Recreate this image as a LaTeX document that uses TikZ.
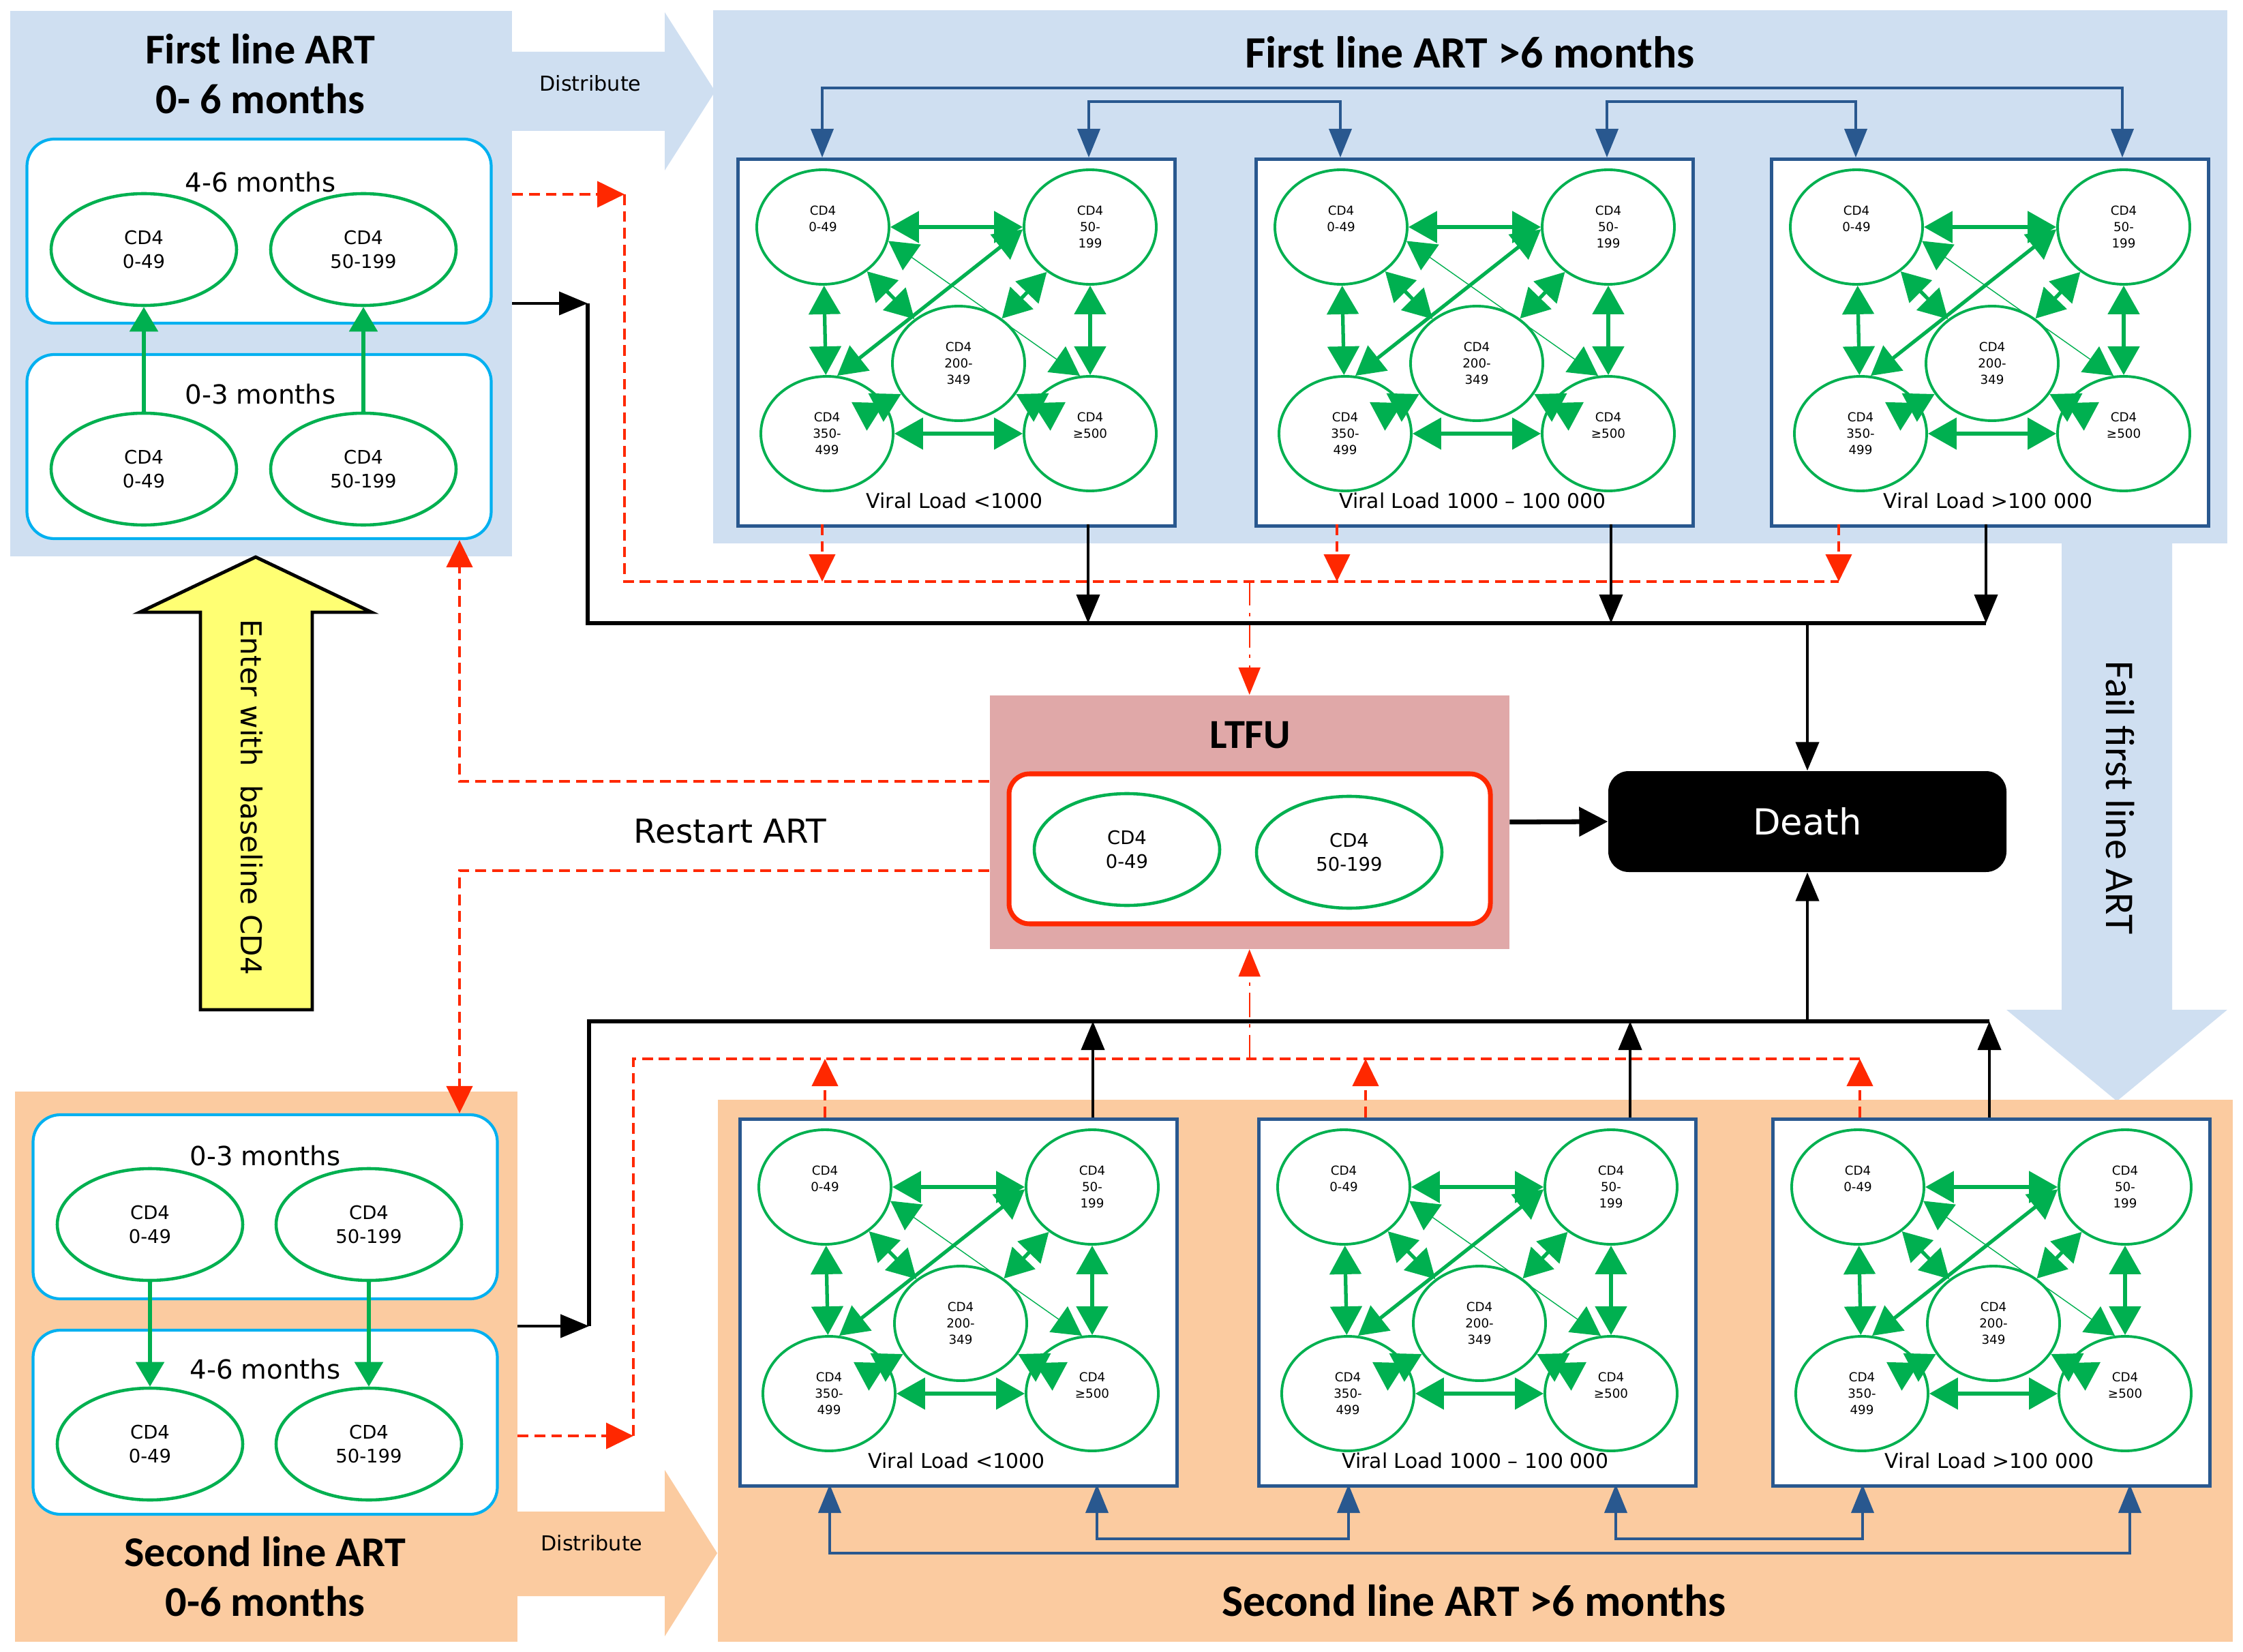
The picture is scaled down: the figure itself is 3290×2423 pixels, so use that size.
\documentclass[tikz,border=0pt]{standalone}
\usepackage{fontspec}
\setmainfont{Carlito}
\newfontfamily\lblfont{DejaVu Sans}
\usetikzlibrary{arrows.meta,shapes.geometric}

\definecolor{panelblue}{RGB}{207,223,241}
\definecolor{panelorange}{RGB}{251,203,160}
\definecolor{ltfupink}{RGB}{224,168,168}
\definecolor{cdgreen}{RGB}{0,176,80}
\definecolor{boxcyan}{RGB}{0,176,240}
\definecolor{vlblue}{RGB}{41,88,143}
\definecolor{redline}{RGB}{255,40,0}
\definecolor{enteryellow}{RGB}{255,255,115}

\tikzset{
  panel/.style={inner sep=0pt, anchor=north west},
  paneltitle/.style={align=center, font=\bfseries\fontsize{17.7}{20.8}\selectfont},
  bigtitle/.style={font=\bfseries\fontsize{18.7}{22}\selectfont},
  agebox/.style={draw=boxcyan, line width=1.2pt, fill=white, rounded corners=4mm,
    inner sep=0pt, minimum width=68.1mm, minimum height=27mm},
  agelabel/.style={font=\lblfont\fontsize{11}{13}\selectfont},
  cdell/.style={ellipse, draw=cdgreen, line width=1.3pt, fill=white, inner sep=0pt,
    minimum width=27.2mm, minimum height=16.4mm, align=center,
    font=\lblfont\fontsize{7.8}{10}\selectfont},
  cdcirc/.style={ellipse, draw=cdgreen, line width=1.1pt, inner sep=0pt,
    minimum width=19.4mm, minimum height=16.8mm, align=center,
    font=\lblfont\fontsize{5.2}{6.8}\selectfont},
  vlbox/.style={draw=vlblue, line width=1.5pt, fill=white, inner sep=0pt,
    minimum width=64.1mm, minimum height=53.8mm, anchor=north west},
  vllabel/.style={font=\lblfont\fontsize{8.5}{10}\selectfont},
  gtwo/.style={draw=cdgreen, line width=1.5pt,
    {Triangle[length=4.2mm,width=4.6mm]}-{Triangle[length=4.2mm,width=4.6mm]}},
  gthin/.style={gtwo, line width=0.4pt},
  gone/.style={draw=cdgreen, line width=1.6pt, -{Triangle[length=3.6mm,width=4.1mm]}},
  bluelink/.style={draw=vlblue, line width=1.1pt,
    {Triangle[length=4.2mm,width=3.3mm]}-{Triangle[length=4.2mm,width=3.3mm]}},
  blk/.style={draw=black, line width=1.2pt, -{Triangle[length=4.2mm,width=3.4mm]}},
  bus/.style={draw=black, line width=1.6pt},
  reddash/.style={draw=redline, line width=1.2pt, dash pattern=on 4.5pt off 2.5pt},
  redarr/.style={reddash, -{Triangle[length=4mm,width=3.8mm]}},
  reddot/.style={draw=redline, line width=0.6pt, dash pattern=on 10pt off 3pt on 1.5pt off 3pt,
    -{Triangle[length=4mm,width=3.2mm]}},
}

\begin{document}
\begin{tikzpicture}[x=0.1mm, y=-0.1mm]
\fill[white] (0,0) rectangle (3290,2423);
\useasboundingbox (0,0) rectangle (3290,2423);

% panels
\node[panel, fill=panelblue, minimum width=73.6mm, minimum height=80mm] (fl06) at (14,15) {};
\node[panel, fill=panelblue, minimum width=222.1mm, minimum height=78.2mm] (fl6) at (1045,14) {};
\fill[panelblue] (3024,796) -- (3186,796) -- (3186,1481) -- (3267,1481) -- (3105,1615)
  -- (2943,1481) -- (3024,1481) -- cycle;
\node[panel, fill=panelorange, minimum width=73.7mm, minimum height=80.7mm] (sl06) at (21,1600) {};
\node[panel, fill=panelorange, minimum width=222.2mm, minimum height=79.5mm] (sl6) at (1052,1612) {};
\node[panel, fill=ltfupink, minimum width=76.2mm, minimum height=37.2mm] (ltfu) at (1451,1019) {};

% distribute arrows
\fill[panelblue] (750,76) -- (975,76) -- (975,18) -- (1049,134) -- (975,250) -- (975,192)
  -- (750,192) -- cycle;
\fill[panelorange] (758,2217) -- (975,2217) -- (975,2156) -- (1052,2278) -- (975,2400)
  -- (975,2341) -- (758,2341) -- cycle;
\node[font=\lblfont\fontsize{8.6}{10}\selectfont] (dist1) at (866,122) {Distribute};
\node[font=\lblfont\fontsize{8.6}{10}\selectfont] (dist2) at (868,2263) {Distribute};
\node[rotate=-90, font=\fontsize{17}{20}\selectfont] (failt) at (3110,1170) {Fail first line ART};

% titles
\node[paneltitle] (fl06t) at (382,108) {First line ART\\0- 6 months};
\node[bigtitle] (fl6t) at (2156,77) {First line ART >6 months};
\node[paneltitle] (sl06t) at (389,2312) {Second line ART\\0-6 months};
\node[bigtitle] (sl6t) at (2162,2348) {Second line ART >6 months};

% first line 0-6 months
\node[agebox] (fl46) at (380,339) {};
\node[agebox] (fl03) at (380,655) {};
\node[agelabel] (fl46l) at (382,267) {4-6 months};
\node[agelabel] (fl03l) at (382,578) {0-3 months};
\node[cdell] (fl46a) at (211,366) {CD4\\0-49};
\node[cdell] (fl46b) at (533,366) {CD4\\50-199};
\node[cdell] (fl03a) at (211,688) {CD4\\0-49};
\node[cdell] (fl03b) at (533,688) {CD4\\50-199};
\draw[gone] (fl03a) -- (fl46a);
\draw[gone] (fl03b) -- (fl46b);

% second line 0-6 months
\node[agebox] (sl03) at (389,1770) {};
\node[agebox] (sl46) at (389,2086) {};
\node[agelabel] (sl03l) at (389,1695) {0-3 months};
\node[agelabel] (sl46l) at (389,2008) {4-6 months};
\node[cdell] (sl03a) at (220,1796) {CD4\\0-49};
\node[cdell] (sl03b) at (541,1796) {CD4\\50-199};
\node[cdell] (sl46a) at (220,2118) {CD4\\0-49};
\node[cdell] (sl46b) at (541,2118) {CD4\\50-199};
\draw[gone] (sl03a) -- (sl46a);
\draw[gone] (sl03b) -- (sl46b);

% viral load boxes
\foreach \n/\bx/\by/\vl/\yb/\yk/\dk/\dr/\bl/\br in {
    t1/1080/231/{<1000}/0/538/516/126/126/517,
    t2/1840/231/{1000 – 100 000}/0/538/523/121/126/517,
    t3/2596/231/{>100 000}/0/538/317/101/126/517,
    b1/1083/1639/{<1000}/538/0/520/127/134/526,
    b2/1844/1639/{1000 – 100 000}/538/0/547/159/134/526,
    b3/2598/1639/{>100 000}/538/0/320/130/134/526}{
  \begin{scope}[shift={(\bx,\by)}]
    \node[vlbox] (\n) at (0,0) {};
    \node[cdcirc] (\n-a) at (127,102) {CD4\\0-49\\\phantom{0}};
    \node[cdcirc] (\n-b) at (519,102) {CD4\\50-\\199};
    \node[cdcirc] (\n-c) at (326,302) {CD4\\200-\\349};
    \node[cdcirc] (\n-d) at (133,405) {CD4\\350-\\499};
    \node[cdcirc] (\n-e) at (519,405) {CD4\\≥500\\\phantom{0}};
    \node[vllabel] (\n-vl) at (320,503) {Viral Load \vl};
    \coordinate (\n-bl) at (\bl,\yb);
    \coordinate (\n-br) at (\br,\yb);
    \coordinate (\n-k) at (\dk,\yk);
    \coordinate (\n-r) at (\dr,\yk);
    \draw[gtwo] (\n-a) -- (\n-b);
    \draw[gtwo] (\n-d) -- (\n-e);
    \draw[gtwo] (\n-a) -- (\n-d);
    \draw[gtwo] (\n-b) -- (\n-e);
    \draw[gtwo] (\n-a) -- (\n-c);
    \draw[gtwo] (\n-b) -- (\n-c);
    \draw[gtwo] (\n-d) -- (\n-c);
    \draw[gtwo] (\n-e) -- (\n-c);
    \draw[gtwo] (\n-d.80) -- (\n-b.182);
    \draw[gthin] (\n-a.-12) -- (\n-e.100);
  \end{scope}
}

% distribution links
\draw[bluelink] (t1-bl) -- ++(0,-102) -| (t3-br);
\draw[bluelink] (t1-br) -- ++(0,-82) -| (t2-bl);
\draw[bluelink] (t2-br) -- ++(0,-82) -| (t3-bl);
\draw[bluelink] (b1-bl) -- ++(0,101) -| (b3-br);
\draw[bluelink] (b1-br) -- ++(0,80) -| (b2-bl);
\draw[bluelink] (b2-br) -- ++(0,80) -| (b3-bl);

% LTFU
\node[font=\bfseries\fontsize{17.2}{20}\selectfont] (ltfut) at (1834,1078) {LTFU};
\node[draw=redline, line width=2pt, fill=white, rounded corners=3mm, inner sep=0pt,
  minimum width=70.6mm, minimum height=22mm] (ltfuin) at (1833,1245) {};
\node[cdell] (ltfua) at (1653,1246) {CD4\\0-49};
\node[cdell] (ltfub) at (1979,1250) {CD4\\50-199};

% death
\node[fill=black, rounded corners=3mm, inner sep=0pt, minimum width=58.4mm,
  minimum height=14.8mm, text=white, font=\lblfont\fontsize{15}{18}\selectfont]
  (death) at (2651,1205) {Death};
\draw[blk, line width=2pt, -{Triangle[length=4.2mm,width=4.2mm]}] (ltfu.east) -- (death.west);

% lost to follow up, first line
\coordinate (rt0) at (916,285);
\coordinate (rtL) at (916,853);
\coordinate (rtR) at (2697,853);
\draw[reddash] (rt0) -- (rtL) -- (rtR);
\draw[redarr] (fl06.east |- rt0) -- (rt0);
\foreach \n in {t1,t2,t3}
  \draw[redarr] (\n-r) -- (\n-r |- rtL);
\draw[reddot] (ltfu.north |- rtL) -- (ltfu.north);

% lost to follow up, second line
\coordinate (rb0) at (929,2106);
\coordinate (rbL) at (929,1553);
\coordinate (rbR) at (2728,1553);
\draw[reddash] (rb0) -- (rbL) -- (rbR);
\draw[redarr] (sl06.east |- rb0) -- (rb0);
\foreach \n in {b1,b2,b3}
  \draw[redarr] (\n-r) -- (\n-r |- rbL);
\draw[reddot] (ltfu.south |- rbL) -- (ltfu.south);

% deaths, first line
\coordinate (bt0) at (862,445);
\coordinate (btL) at (862,914);
\coordinate (btR) at (2913,914);
\draw[bus] (bt0) -- (btL) -- (btR);
\draw[blk] (fl06.east |- bt0) -- (bt0);
\foreach \n in {t1,t2,t3}
  \draw[blk] (\n-k) -- (\n-k |- btL);
\draw[blk] (death.north |- btL) -- (death.north);

% deaths, second line
\coordinate (bb0) at (864,1945);
\coordinate (bbL) at (864,1498);
\coordinate (bbR) at (2918,1498);
\draw[bus] (bb0) -- (bbL) -- (bbR);
\draw[blk] (sl06.east |- bb0) -- (bb0);
\foreach \n in {b1,b2,b3}
  \draw[blk] (\n-k) -- (\n-k |- bbL);
\draw[blk] (death.south |- bbL) -- (death.south);

% restart
\coordinate (rsU) at (674,1146);
\coordinate (rsD) at (674,1277);
\draw[redarr] (ltfu.west |- rsU) -- (rsU) -- (rsU |- fl03.south);
\draw[redarr] (ltfu.west |- rsD) -- (rsD) -- (rsD |- sl03.north);
\node[font=\lblfont\fontsize{13.8}{16}\selectfont] (restart) at (1071,1219) {Restart ART};

% entry
\filldraw[fill=enteryellow, draw=black, line width=1.4pt] (294,1481) -- (458,1481) -- (458,898)
  -- (545,898) -- (375,817) -- (205,898) -- (294,898) -- cycle;
\node[rotate=-90, font=\lblfont\fontsize{12}{14}\selectfont] (entert) at (369,1169)
  {Enter with~ baseline CD4};
\end{tikzpicture}
\end{document}
